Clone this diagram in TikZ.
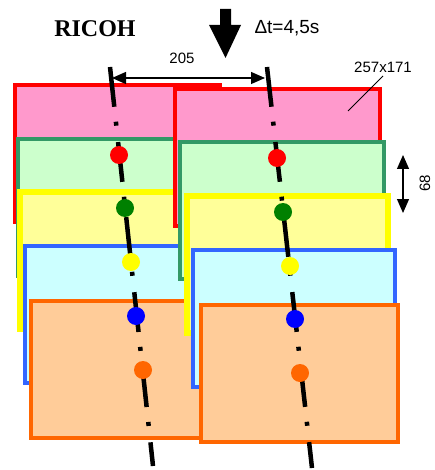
\documentclass[tikz,border=0pt]{standalone}
\usepackage{fontspec}
\setmainfont{Liberation Sans}
\newfontfamily\serifrm{Liberation Serif}
\usetikzlibrary{arrows.meta}
\definecolor{cred}{HTML}{FF0000}
\definecolor{cpink}{HTML}{FF99CC}
\definecolor{cgreenb}{HTML}{339966}
\definecolor{cgreenf}{HTML}{CCFFCC}
\definecolor{cyelb}{HTML}{FFFF00}
\definecolor{cyelf}{HTML}{FFFF99}
\definecolor{cblueb}{HTML}{3366FF}
\definecolor{cbluef}{HTML}{CCFFFF}
\definecolor{corab}{HTML}{FF6600}
\definecolor{coraf}{HTML}{FFCC99}
\definecolor{dgreen}{HTML}{008000}
\definecolor{dblue}{HTML}{0000FF}
\begin{document}
\begin{tikzpicture}[x=1pt,y=-1pt,
  box/.style={draw, rectangle, anchor=north west, inner sep=0pt, outer sep=0pt, minimum height=137pt},
  redbox/.style={box, draw=cred, fill=cpink, line width=4pt, minimum width=205pt},
  greenbox/.style={box, draw=cgreenb, fill=cgreenf, line width=4pt, minimum width=204pt},
  yelbox/.style={box, draw=cyelb, fill=cyelf, line width=6pt, minimum width=201pt},
  bluebox/.style={box, draw=cblueb, fill=cbluef, line width=4pt, minimum width=202pt},
  orabox/.style={box, draw=corab, fill=coraf, line width=4.5pt, minimum width=197pt},
  axisline/.style={line width=4.5pt, dash pattern=on 40pt off 15pt on 4pt off 16.5pt},
  dot/.style={circle, inner sep=0pt, minimum size=18pt},
  dim/.style={line width=1.2pt, {Triangle[length=14pt,width=12pt]}-{Triangle[length=14pt,width=12pt]}},
  lbl/.style={inner sep=0pt}
]
\useasboundingbox (0,0) rectangle (435,470);

% left stack
\node[redbox]   (Lred) at (15,85) {};
\node[greenbox] (Lgreen) at (18,139) {};
\node[yelbox]   (Lyel) at (20,192) {};
\node[bluebox]  (Lblue) at (25,246) {};
\node[orabox, minimum width=203pt] (Lora) at (31,301) {};

% right stack
\node[redbox]   (Rred) at (175,89) {};
\node[greenbox] (Rgreen) at (180,142) {};
\node[yelbox]   (Ryel) at (187,196) {};
\node[bluebox]  (Rblue) at (193,250) {};
\node[orabox]   (Rora) at (201,305) {};

% axis lines
\coordinate (Lt) at (110,67);
\coordinate (Lb) at (153,466);
\coordinate (Rt) at (267,67);
\coordinate (Rb) at (312,468);
\draw[axisline] (Lt) -- (Lb);
\draw[axisline] (Rt) -- (Rb);

% dots
\node[dot, fill=cred]   (d1) at (119,155) {};
\node[dot, fill=dgreen] (d2) at (125,208) {};
\node[dot, fill=cyelb]  (d3) at (131,262) {};
\node[dot, fill=dblue]  (d4) at (136,316) {};
\node[dot, fill=corab]  (d5) at (143,370) {};
\node[dot, fill=cred]   (e1) at (277,158) {};
\node[dot, fill=dgreen] (e2) at (283,212) {};
\node[dot, fill=cyelb]  (e3) at (290,266) {};
\node[dot, fill=dblue]  (e4) at (295,319) {};
\node[dot, fill=corab]  (e5) at (300,373) {};

% dimension 205
\coordinate (h1) at (112,78);
\coordinate (h2) at (265,78);
\draw[dim] (h1) -- (h2);
\node[lbl, font=\fontsize{15}{15}\selectfont] (t205) at (182,58) {205};

% dimension 68
\coordinate (v1) at (403,155);
\coordinate (v2) at (403,213);
\draw[dim] (v1) -- (v2);
\node[lbl, rotate=90, font=\fontsize{15}{15}\selectfont] (t68) at (425,183) {68};

% size label
\node[lbl, font=\fontsize{15}{15}\selectfont] (tsize) at (383,67) {257x171};
\coordinate (s1) at (383,76);
\coordinate (s2) at (348,111);
\draw[line width=1pt] (s1) -- (s2);

% title and time
\node[lbl, font=\serifrm\bfseries\fontsize{24}{24}\selectfont] (ricoh) at (95,29) {RICOH};
\node[lbl, font=\fontsize{19}{19}\selectfont] (dt) at (287,28) {Δt=4,5s};

% big arrow
\fill (220,9) -- (231,9) -- (231,25) -- (241,25) -- (225.5,58) -- (209,25) -- (220,25) -- cycle;
\end{tikzpicture}
\end{document}
